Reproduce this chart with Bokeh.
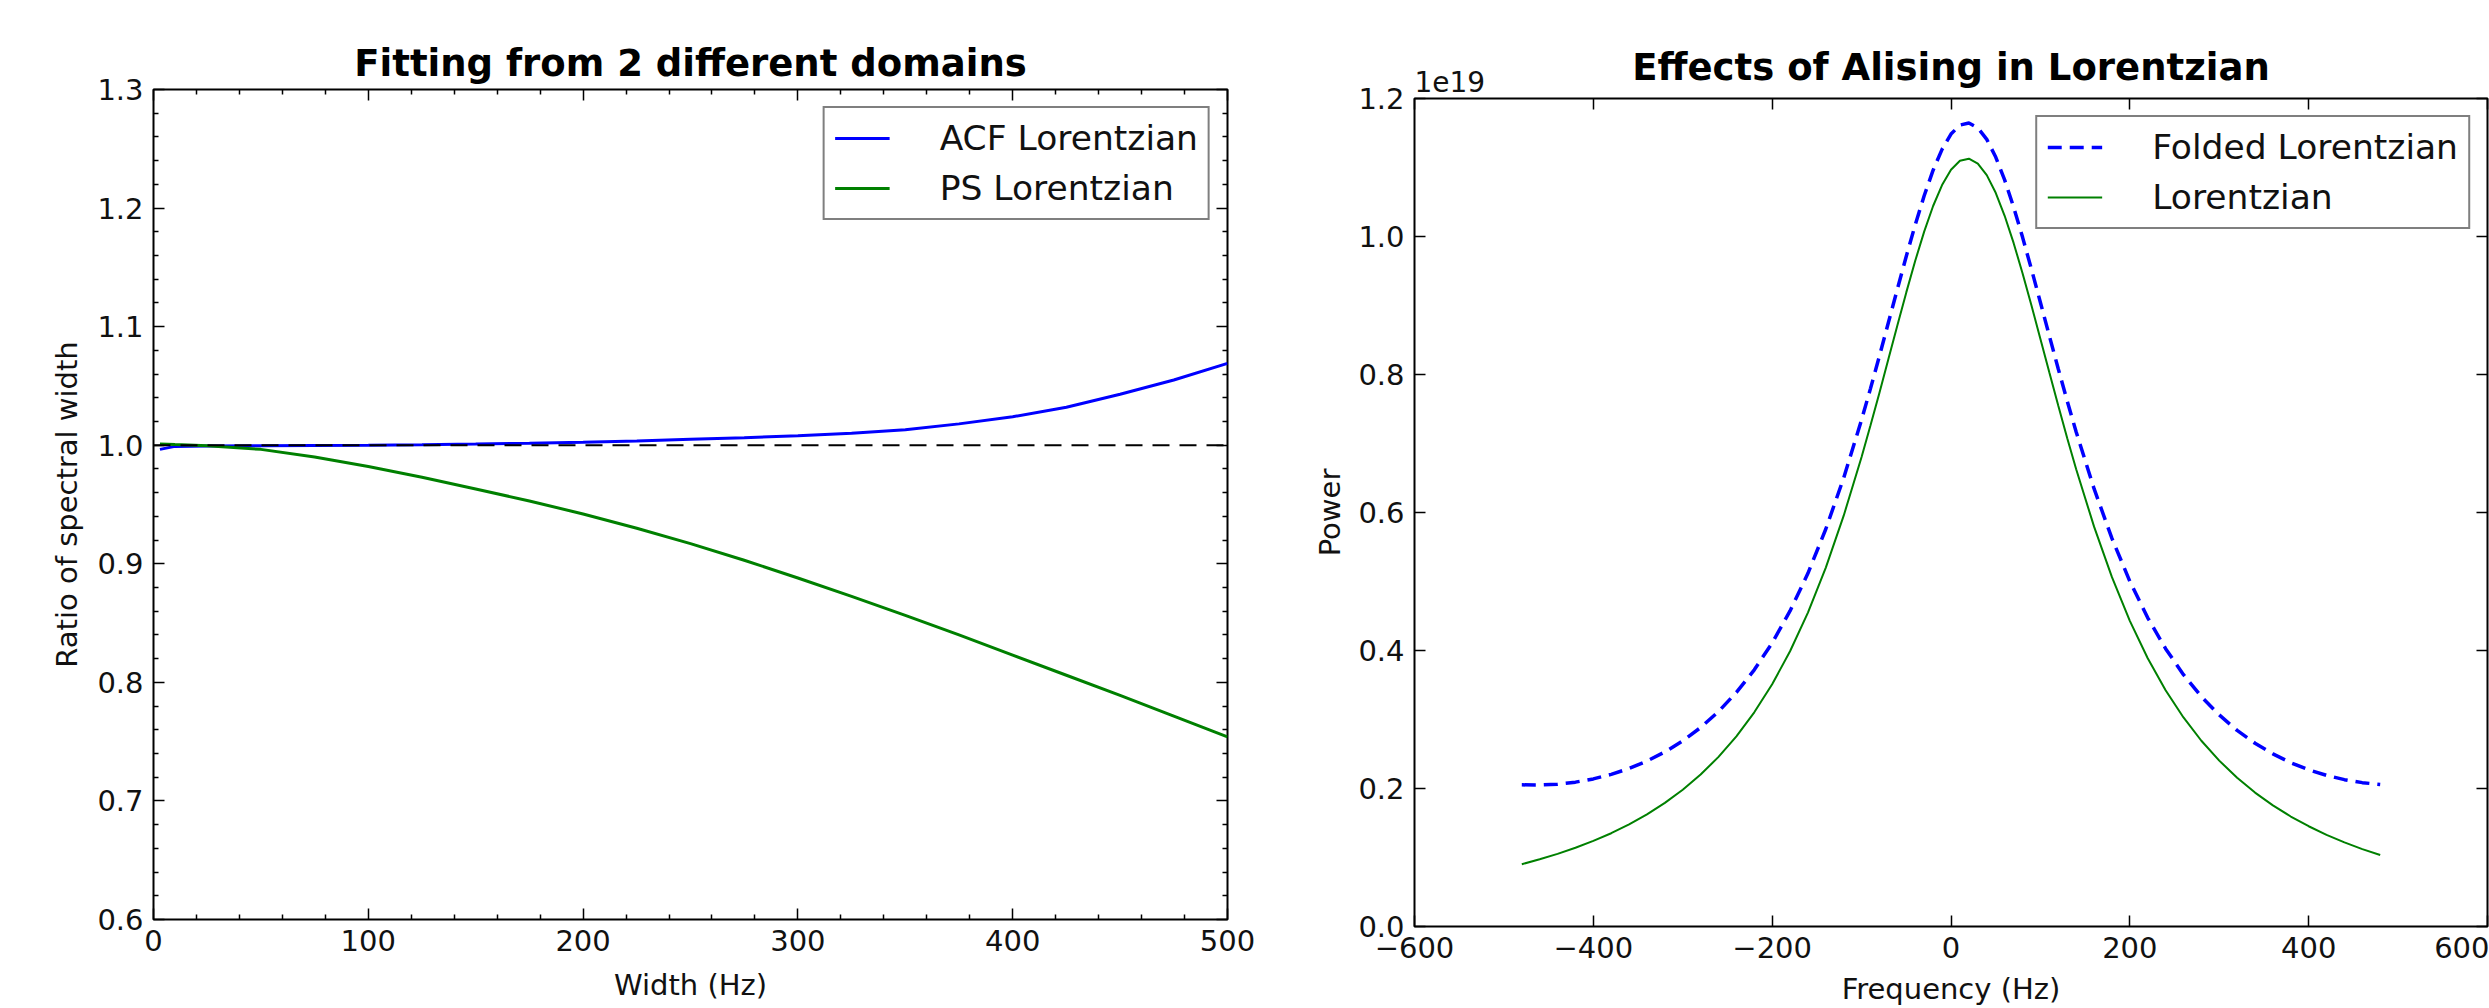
from bokeh.plotting import figure
from bokeh.layouts import row, column
from bokeh.models import (Range1d, LinearAxis, FixedTicker, Legend, LegendItem,
                          Title, Span, Spacer)
from bokeh.embed import file_html
from bokeh.resources import INLINE

# ---------------- data: left panel ----------------
width_hz = [3, 10, 25, 50, 75, 100, 125, 150, 175, 200, 225, 250, 275, 300,
            325, 350, 375, 400, 425, 450, 475, 500]
acf_ratio = [0.9965, 0.999, 0.9993, 0.9996, 0.9998, 1.0, 1.0004, 1.001, 1.0017,
             1.0025, 1.0035, 1.005, 1.0063, 1.008, 1.010, 1.013, 1.018, 1.024,
             1.032, 1.043, 1.055, 1.069]
ps_ratio = [1.001, 1.0005, 0.9995, 0.9965, 0.990, 0.982, 0.973, 0.963, 0.953,
            0.942, 0.930, 0.917, 0.903, 0.888, 0.8725, 0.8565, 0.840, 0.823,
            0.806, 0.789, 0.7715, 0.754]
ref_ratio = 1.0
left_x_ticks = [0, 100, 200, 300, 400, 500]
left_x_labels = ["0", "100", "200", "300", "400", "500"]
left_y_ticks = [0.6, 0.7, 0.8, 0.9, 1.0, 1.1, 1.2, 1.3]
left_y_labels = ["0.6", "0.7", "0.8", "0.9", "1.0", "1.1", "1.2", "1.3"]
left_x_minor = [20, 40, 60, 80, 120, 140, 160, 180, 220, 240, 260, 280,
                320, 340, 360, 380, 420, 440, 460, 480]
left_y_minor = [0.62, 0.64, 0.66, 0.68, 0.72, 0.74, 0.76, 0.78, 0.82, 0.84,
                0.86, 0.88, 0.92, 0.94, 0.96, 0.98, 1.02, 1.04, 1.06, 1.08,
                1.12, 1.14, 1.16, 1.18, 1.22, 1.24, 1.26, 1.28]

# ---------------- data: right panel (power in units of 1e19) ----------------
freq_hz = [-480, -460, -440, -420, -400, -380, -360, -340, -320, -300, -280,
           -260, -240, -220, -200, -180, -160, -140, -120, -100, -90, -80,
           -70, -60, -50, -40, -30, -20, -10, 0, 10, 20, 30, 40, 50, 60, 70,
           80, 90, 100, 110, 120, 130, 140, 160, 180, 200, 220, 240, 260, 280,
           300, 320, 340, 360, 380, 400, 420, 440, 460, 480]
lorentz_power = [0.0903, 0.0974, 0.1052, 0.1141, 0.1240, 0.1352, 0.1479,
                 0.1625, 0.1791, 0.1981, 0.2202, 0.2458, 0.2756, 0.3104,
                 0.3511, 0.3989, 0.4549, 0.5202, 0.5954, 0.6804, 0.7263,
                 0.7737, 0.8223, 0.8710, 0.9190, 0.9648, 1.0071, 1.0442,
                 1.0745, 1.0968, 1.1098, 1.1128, 1.1057, 1.0889, 1.0633,
                 1.0300, 0.9907, 0.9468, 0.9000, 0.8516, 0.8028, 0.7546,
                 0.7077, 0.6627, 0.5795, 0.5063, 0.4430, 0.3888, 0.3425,
                 0.3030, 0.2692, 0.2404, 0.2155, 0.1941, 0.1756, 0.1594,
                 0.1453, 0.1329, 0.1219, 0.1122, 0.1036]
folded_power = [0.2053, 0.2050, 0.2062, 0.2092, 0.2139, 0.2205, 0.2290,
                0.2398, 0.2530, 0.2690, 0.2884, 0.3116, 0.3392, 0.3720,
                0.4110, 0.4573, 0.5119, 0.5761, 0.6502, 0.7344, 0.7799,
                0.8270, 0.8753, 0.9237, 0.9714, 1.0170, 1.0591, 1.0961,
                1.1263, 1.1485, 1.1615, 1.1645, 1.1574, 1.1407, 1.1152,
                1.0820, 1.0428, 0.9991, 0.9525, 0.9044, 0.8559, 0.8080,
                0.7614, 0.7168, 0.6345, 0.5624, 0.5003, 0.4474, 0.4027,
                0.3650, 0.3332, 0.3066, 0.2842, 0.2656, 0.2502, 0.2374,
                0.2272, 0.2190, 0.2128, 0.2085, 0.2058]
right_x_ticks = [-600, -400, -200, 0, 200, 400, 600]
right_x_labels = ["\u2212600", "\u2212400", "\u2212200", "0", "200", "400", "600"]
right_y_ticks = [0.0, 0.2, 0.4, 0.6, 0.8, 1.0, 1.2]
right_y_labels = ["0.0", "0.2", "0.4", "0.6", "0.8", "1.0", "1.2"]
power_scale_text = "1e19"

FONT = "DejaVu Sans"
TXT = "#111111"
TICK_FS = "29px"
LABEL_FS = "29px"


def style_axis(ax, ticks, labels, minor):
    ax.ticker = FixedTicker(ticks=ticks, minor_ticks=minor)
    ax.major_label_overrides = {t: l for t, l in zip(ticks, labels)}
    ax.axis_line_color = None
    ax.major_tick_in = 11
    ax.major_tick_out = 0
    ax.minor_tick_in = 5
    ax.minor_tick_out = 0
    ax.major_tick_line_color = "black"
    ax.minor_tick_line_color = "black"
    ax.major_tick_line_width = 1.5
    ax.minor_tick_line_width = 1.5
    ax.major_label_text_font = FONT
    ax.major_label_text_color = TXT
    ax.major_label_text_font_size = TICK_FS
    ax.major_label_standoff = 10
    ax.axis_label_text_font = FONT
    ax.axis_label_text_font_style = "normal"
    ax.axis_label_text_color = TXT
    ax.axis_label_text_font_size = LABEL_FS


def tick_only_axis(positions, length):
    # an axis that draws only inward tick marks (no labels) on the frame edge
    ax = LinearAxis(ticker=FixedTicker(ticks=[], minor_ticks=positions))
    ax.axis_line_color = None
    ax.major_tick_in = 0
    ax.major_tick_out = 0
    ax.minor_tick_in = length
    ax.minor_tick_out = 0
    ax.minor_tick_line_color = "black"
    ax.minor_tick_line_width = 1.5
    ax.major_label_standoff = 0
    return ax


def base_fig(title, width, height, xr, yr, mb):
    p = figure(width=width, height=height, x_range=xr, y_range=yr,
               output_backend="svg", toolbar_location=None, title=title,
               min_border_left=mb[0], min_border_right=mb[1],
               min_border_top=mb[2], min_border_bottom=mb[3])
    p.grid.visible = False
    p.outline_line_color = "black"
    p.outline_line_width = 2
    p.background_fill_color = "white"
    p.border_fill_color = "white"
    p.title.text_font = FONT
    p.title.text_font_size = "37px"
    p.title.text_font_style = "bold"
    p.title.text_color = "black"
    p.title.align = "center"
    p.title.standoff = 10
    return p


# ---------------- left panel ----------------
p1 = base_fig("Fitting from 2 different domains", 1280, 1008,
              Range1d(0, 500), Range1d(0.6, 1.3), (153, 53, 89, 89))
style_axis(p1.xaxis[0], left_x_ticks, left_x_labels, left_x_minor)
style_axis(p1.yaxis[0], left_y_ticks, left_y_labels, left_y_minor)
p1.xaxis[0].axis_label = "Width (Hz)"
p1.yaxis[0].axis_label = "Ratio of spectral width"
p1.xaxis[0].axis_label_standoff = 14
p1.yaxis[0].axis_label_standoff = 10
p1.add_layout(tick_only_axis(left_x_ticks, 11), "above")
p1.add_layout(tick_only_axis(left_x_minor, 5), "above")
p1.add_layout(tick_only_axis(left_y_ticks, 11), "right")
p1.add_layout(tick_only_axis(left_y_minor, 5), "right")

r_acf = p1.line(width_hz, acf_ratio, line_color="#0000ff", line_width=3)
r_ps = p1.line(width_hz, ps_ratio, line_color="#008000", line_width=3)
p1.add_layout(Span(location=ref_ratio, dimension="width", line_color="black",
                   line_width=2, line_dash="17 10"))

leg1 = Legend(items=[LegendItem(label="ACF Lorentzian", renderers=[r_acf]),
                     LegendItem(label="PS Lorentzian", renderers=[r_ps])],
              location="top_right")
p1.add_layout(leg1, "center")

# ---------------- right panel ----------------
p2 = base_fig("Effects of Alising in Lorentzian", 1209, 999,
              Range1d(-600, 600), Range1d(0, 1.2), (134, 2, 89, 81))
style_axis(p2.xaxis[0], right_x_ticks, right_x_labels, [])
style_axis(p2.yaxis[0], right_y_ticks, right_y_labels, [])
p2.xaxis[0].axis_label = "Frequency (Hz)"
p2.yaxis[0].axis_label = "Power"
p2.xaxis[0].major_label_standoff = 10
p2.xaxis[0].axis_label_standoff = 11
p2.yaxis[0].axis_label_standoff = 8
p2.add_layout(tick_only_axis(right_x_ticks, 11), "above")
p2.add_layout(tick_only_axis(right_y_ticks, 11), "right")
p2.add_layout(Title(text=power_scale_text, align="left", text_font=FONT,
                    text_font_size="28px", text_font_style="normal",
                    text_color=TXT, standoff=14), "above")
p2.title.standoff = -55

r_fold = p2.line(freq_hz, folded_power, line_color="#0000ff", line_width=3.5,
                 line_dash="14 8")
r_lor = p2.line(freq_hz, lorentz_power, line_color="#008000", line_width=2)

leg2 = Legend(items=[LegendItem(label="Folded Lorentzian", renderers=[r_fold]),
                     LegendItem(label="Lorentzian", renderers=[r_lor])],
              location="top_right")
p2.add_layout(leg2, "center")

for lg in (leg1, leg2):
    lg.margin = 17
    lg.padding = 10
    lg.spacing = 10
    lg.glyph_width = 55
    lg.glyph_height = 40
    lg.label_height = 40
    lg.label_standoff = 50
    lg.label_text_font = FONT
    lg.label_text_font_size = "34.5px"
    lg.label_text_color = TXT
    lg.border_line_color = "black"
    lg.border_line_width = 2
    lg.background_fill_color = "white"
    lg.background_fill_alpha = 1.0

layout = row(p1, column(Spacer(width=1209, height=9), p2))
open("out.html", "w").write(file_html(layout, INLINE))
